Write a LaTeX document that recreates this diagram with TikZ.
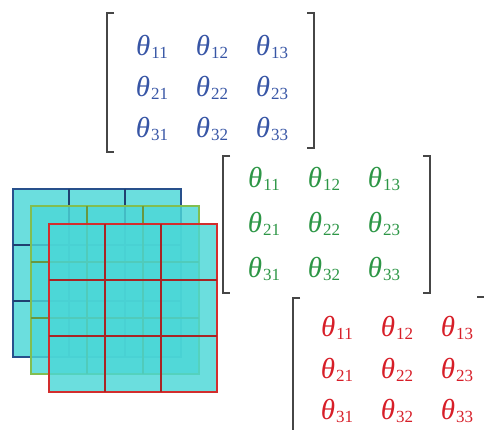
\documentclass[tikz,border=0pt]{standalone}
\usepackage{fontspec}
\setmainfont{Liberation Serif}

\definecolor{wblue}{RGB}{55,85,165}
\definecolor{wgreen}{RGB}{45,150,70}
\definecolor{wred}{RGB}{215,30,40}
\definecolor{lblue}{RGB}{40,80,140}
\definecolor{lgreen}{RGB}{130,190,80}
\definecolor{lred}{RGB}{210,45,45}
\definecolor{kernelfill}{RGB}{75,215,215}
\definecolor{brk}{RGB}{70,70,70}

% one weight: theta with its two indices
\newcommand{\wt}[1]{\textit{θ}\kern1pt\raisebox{-3pt}{\fontsize{17}{17}\selectfont #1}}

\tikzset{
  entry/.style={inner sep=0pt, font=\fontsize{29}{34}\selectfont},
  brace/.style={draw=brk, line width=2pt},
  layer/.style={fill=kernelfill, fill opacity=0.82, line width=1.2pt}
}

\begin{document}
\begin{tikzpicture}[x=1pt,y=-1pt]
\useasboundingbox (0,0) rectangle (496,430);
\clip (0,0) rectangle (496,430);

% stacked 3x3 kernels, back to front
\foreach \col/\ox/\oy in {lblue/13/189, lgreen/31/206, lred/49/224}{
    \draw[layer, draw=\col] (\ox,\oy) rectangle ++(168,168);
    \foreach \k in {1,2}{
        \draw[draw=\col!80!black, line width=1.8pt] (\ox+56*\k,\oy) -- ++(0,168);
        \draw[draw=\col!80!black, line width=1.8pt] (\ox,\oy+56*\k) -- ++(168,0);
    }
}

% weight matrices
\foreach \m/\col/\ox/\oy/\dy in {b/wblue/152/47/41, g/wgreen/264/179/45, r/wred/337/328/41.5}{
    \foreach \i in {1,2,3}{
        \foreach \j in {1,2,3}{
            \node[entry, text=\col] (\m\i\j) at (\ox+60*\j-60, \oy+\dy*\i-\dy) {\wt{\i\j}};
        }
    }
}

% brackets
\draw[brace] (114,13) -| (107,152) -- (114,152);
\draw[brace] (307,13) -| (314,148) -- (307,148);
\draw[brace] (230,156) -| (223,293) -- (230,293);
\draw[brace] (423,156) -| (430,293) -- (423,293);
\draw[brace] (300,298) -| (293,440);
\draw[brace] (477,297) -- (484,297);
\end{tikzpicture}
\end{document}
